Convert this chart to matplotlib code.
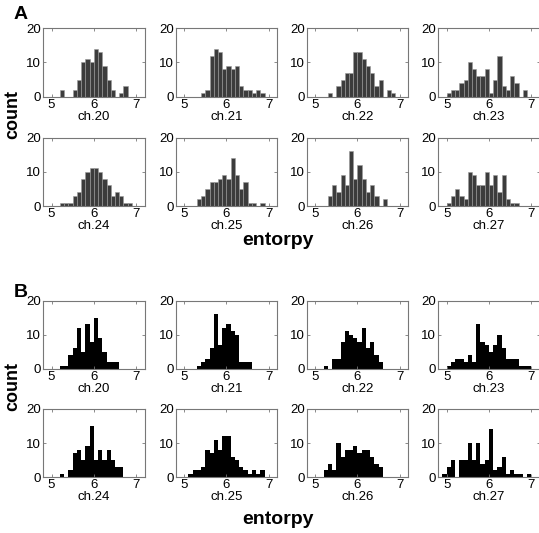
import numpy as np
import matplotlib
matplotlib.use('Agg')
import matplotlib.pyplot as plt

plt.rcParams['font.family'] = ['Liberation Sans', 'DejaVu Sans']

channels = ['ch.20', 'ch.21', 'ch.22', 'ch.23', 'ch.24', 'ch.25', 'ch.26', 'ch.27']
bin_w = 0.1

# panel A: left edge of first bin + counts
a_start = [5.2, 5.4, 5.3, 5.0, 5.2, 5.3, 5.3, 5.0]
a_counts = [
    [2, 0, 0, 2, 5, 10, 11, 10, 14, 13, 9, 5, 2, 0, 1, 3],
    [1, 2, 12, 14, 13, 8, 9, 8, 9, 3, 2, 2, 1, 2, 1],
    [1, 0, 3, 5, 7, 7, 13, 13, 11, 9, 7, 3, 5, 0, 2, 1],
    [1, 2, 2, 4, 5, 10, 8, 6, 6, 8, 1, 5, 12, 3, 2, 6, 4, 0, 2],
    [1, 1, 1, 3, 4, 8, 10, 11, 11, 10, 8, 6, 3, 4, 3, 1, 1],
    [2, 3, 5, 7, 7, 8, 9, 8, 14, 9, 5, 7, 1, 1, 0, 1],
    [3, 6, 4, 9, 6, 16, 8, 12, 8, 4, 6, 3, 0, 2],
    [1, 3, 5, 3, 2, 10, 9, 6, 6, 10, 6, 9, 4, 9, 2, 1, 1],
]

# panel B
b_start = [5.2, 5.3, 5.2, 5.0, 5.2, 5.1, 5.2, 4.9]
b_counts = [
    [1, 1, 4, 6, 12, 5, 13, 8, 15, 9, 5, 2, 2, 2],
    [1, 2, 3, 6, 16, 7, 12, 13, 11, 10, 2, 2, 2],
    [1, 0, 3, 3, 8, 11, 10, 9, 8, 12, 6, 8, 4, 2],
    [1, 2, 3, 3, 2, 4, 2, 13, 8, 7, 5, 7, 10, 6, 3, 3, 3, 1, 1, 1],
    [1, 0, 2, 7, 8, 5, 9, 15, 5, 8, 5, 8, 5, 3, 3],
    [1, 2, 2, 3, 8, 7, 11, 8, 12, 12, 6, 5, 3, 2, 1, 2, 1, 2],
    [2, 4, 2, 10, 6, 8, 8, 9, 7, 8, 8, 6, 4, 3],
    [1, 3, 5, 0, 5, 5, 10, 5, 10, 4, 5, 14, 2, 3, 6, 1, 2, 1, 1, 0, 1],
]

fig = plt.figure(figsize=(5.39, 5.33), dpi=100)

col_left = [0.080, 0.326, 0.569, 0.813]
row_bottom = [0.8186, 0.6135, 0.3077, 0.1045]
aw, ah = 0.1883, 0.1285


def panel(ax, start, counts, name, face, edge, lw):
    x = start + bin_w * np.arange(len(counts))
    ax.bar(x, counts, width=bin_w, align='edge', color=face, edgecolor=edge, linewidth=lw)
    ax.set_xlim(4.8, 7.2)
    ax.set_ylim(0, 20)
    ax.set_xticks([5, 6, 7])
    ax.set_yticks([0, 10, 20])
    ax.tick_params(direction='in', length=2, width=0.6, labelsize=9.5, pad=1.5,
                   top=True, right=True, colors='#777777', labelcolor='black')
    for s in ax.spines.values():
        s.set_color('#777777')
        s.set_linewidth(0.8)
    ax.set_xlabel(name, fontsize=9.5, labelpad=0)


for i, name in enumerate(channels):
    r, c = divmod(i, 4)
    ax = fig.add_axes([col_left[c], row_bottom[r], aw, ah])
    panel(ax, a_start[i], a_counts[i], name, '#3c3c3c', '#9a9a9a', 0.4)
    ax = fig.add_axes([col_left[c], row_bottom[r + 2], aw, ah])
    panel(ax, b_start[i], b_counts[i], name, 'black', 'none', 0)

fig.text(0.026, 0.988, 'A', fontsize=14, fontweight='bold', va='top')
fig.text(0.026, 0.468, 'B', fontsize=14, fontweight='bold', va='top')
fig.text(0.024, 0.786, 'count', fontsize=13, fontweight='bold', rotation=90, ha='center', va='center')
fig.text(0.024, 0.275, 'count', fontsize=13, fontweight='bold', rotation=90, ha='center', va='center')
fig.text(0.515, 0.549, 'entorpy', fontsize=14, fontweight='bold', ha='center', va='center')
fig.text(0.515, 0.025, 'entorpy', fontsize=14, fontweight='bold', ha='center', va='center')

fig.savefig('out.png', dpi=100)
